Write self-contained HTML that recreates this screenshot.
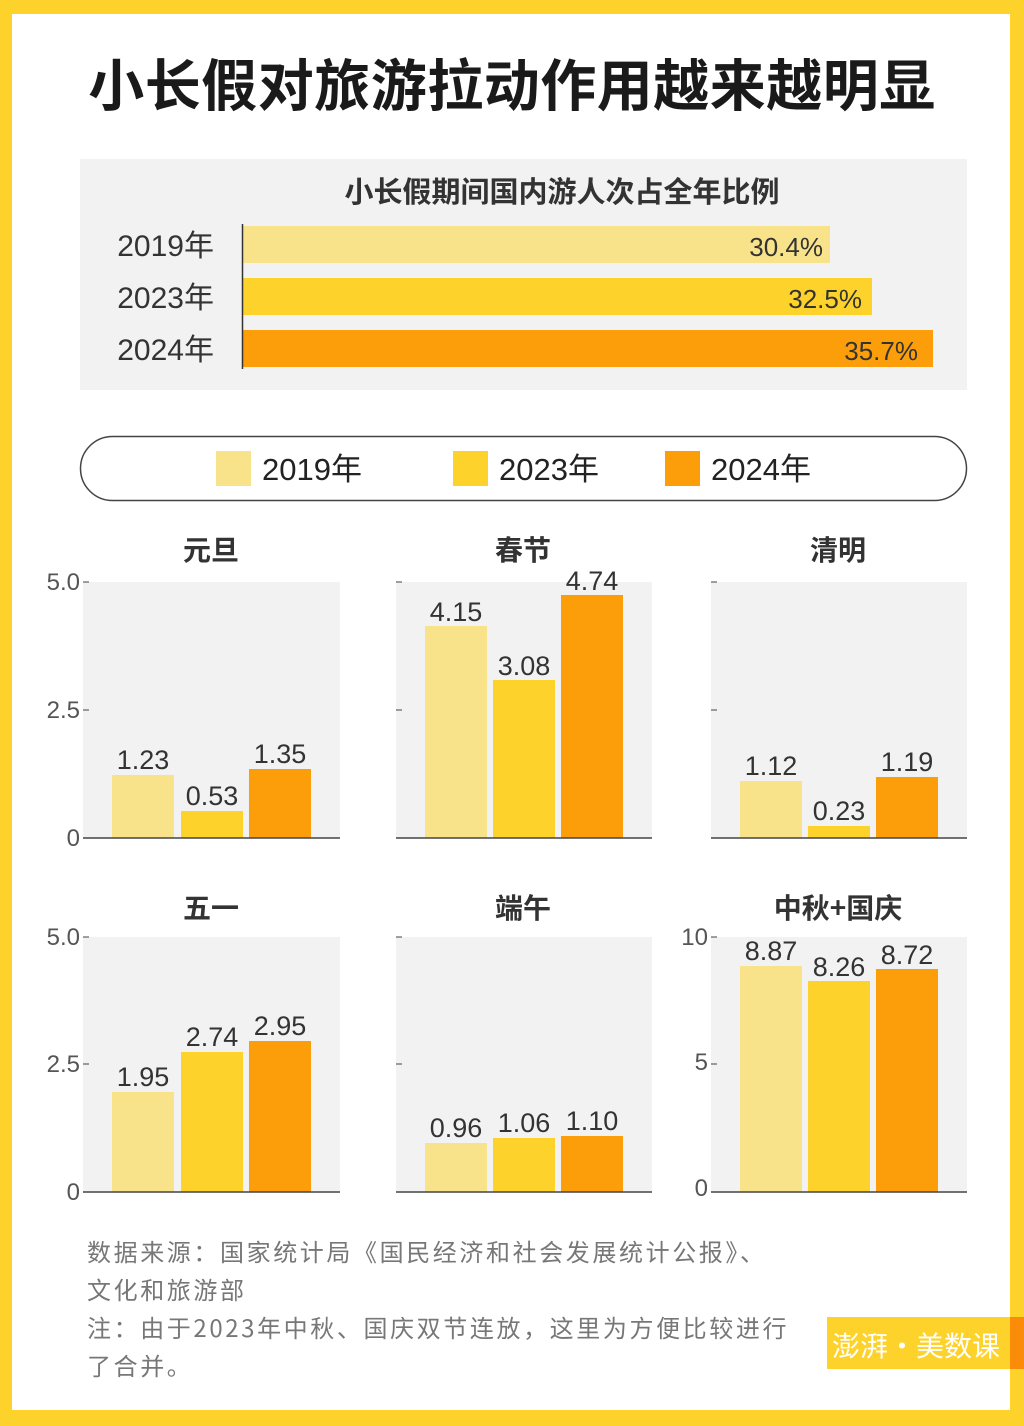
<!DOCTYPE html>
<html><head><meta charset="utf-8"><style>
html,body{margin:0;padding:0;background:#fdd22b;}
svg{display:block;font-family:"Liberation Sans","Noto Sans CJK SC",sans-serif;}
</style></head><body>
<svg width="1024" height="1426" viewBox="0 0 1024 1426" xmlns="http://www.w3.org/2000/svg">
<rect x="0" y="0" width="1024" height="1426" fill="#fdd22b"/>
<rect x="12" y="14" width="998" height="1396" fill="#fff"/>
<text x="512" y="106" text-anchor="middle" font-size="56" font-weight="bold" fill="#1a1a1a" letter-spacing="0.5" style="font-family:'Noto Sans CJK SC',sans-serif">小长假对旅游拉动作用越来越明显</text>
<rect x="80" y="159" width="887" height="231" fill="#f2f2f2"/>
<text x="562" y="202" text-anchor="middle" font-size="29" font-weight="bold" fill="#333" style="font-family:'Noto Sans CJK SC',sans-serif">小长假期间国内游人次占全年比例</text>
<g font-size="30" fill="#333">
<text x="214" y="256" text-anchor="end">2019年</text>
<text x="214" y="308" text-anchor="end">2023年</text>
<text x="214" y="360" text-anchor="end">2024年</text>
</g>
<rect x="243" y="226" width="587" height="37" fill="#f8e38a"/>
<rect x="243" y="278" width="629" height="37" fill="#fdd22b"/>
<rect x="243" y="330" width="690" height="37" fill="#fb9e0a"/>
<line x1="242.5" y1="224" x2="242.5" y2="369" stroke="#333" stroke-width="1.5"/>
<g font-size="26" fill="#333" text-anchor="end">
<text x="823" y="256">30.4%</text>
<text x="862" y="308">32.5%</text>
<text x="918" y="360">35.7%</text>
</g>
<rect x="80.5" y="436.5" width="886" height="64" rx="32" fill="#fff" stroke="#444" stroke-width="1.5"/>
<rect x="216" y="451" width="35" height="35" fill="#f8e38a"/>
<rect x="453" y="451" width="35" height="35" fill="#fdd22b"/>
<rect x="665" y="451" width="35" height="35" fill="#fb9e0a"/>
<g font-size="31" fill="#222">
<text x="262" y="480">2019年</text>
<text x="499" y="480">2023年</text>
<text x="711" y="480">2024年</text>
</g>
<g font-size="28" font-weight="bold" fill="#333" text-anchor="middle" style="font-family:'Noto Sans CJK SC',sans-serif">
<text x="211" y="560">元旦</text>
<text x="523" y="560">春节</text>
<text x="838" y="560">清明</text>
<text x="211" y="918">五一</text>
<text x="523" y="918">端午</text>
<text x="838" y="918">中秋+国庆</text>
</g>
<g fill="#f2f2f2">
<rect x="83" y="582" width="257" height="256"/>
<rect x="396" y="582" width="256" height="256"/>
<rect x="711" y="582" width="256" height="256"/>
<rect x="83" y="937" width="257" height="255"/>
<rect x="396" y="937" width="256" height="255"/>
<rect x="711" y="937" width="256" height="255"/>
</g>
<rect x="112" y="775" width="62" height="63" fill="#f8e38a"/>
<rect x="181" y="811" width="62" height="27" fill="#fdd22b"/>
<rect x="249" y="769" width="62" height="69" fill="#fb9e0a"/>
<rect x="425" y="626" width="62" height="212" fill="#f8e38a"/>
<rect x="493" y="680" width="62" height="158" fill="#fdd22b"/>
<rect x="561" y="595" width="62" height="243" fill="#fb9e0a"/>
<rect x="740" y="781" width="62" height="57" fill="#f8e38a"/>
<rect x="808" y="826" width="62" height="12" fill="#fdd22b"/>
<rect x="876" y="777" width="62" height="61" fill="#fb9e0a"/>
<rect x="112" y="1092" width="62" height="100" fill="#f8e38a"/>
<rect x="181" y="1052" width="62" height="140" fill="#fdd22b"/>
<rect x="249" y="1041" width="62" height="151" fill="#fb9e0a"/>
<rect x="425" y="1143" width="62" height="49" fill="#f8e38a"/>
<rect x="493" y="1138" width="62" height="54" fill="#fdd22b"/>
<rect x="561" y="1136" width="62" height="56" fill="#fb9e0a"/>
<rect x="740" y="966" width="62" height="226" fill="#f8e38a"/>
<rect x="808" y="981" width="62" height="211" fill="#fdd22b"/>
<rect x="876" y="969" width="62" height="223" fill="#fb9e0a"/>
<g stroke="#444" stroke-width="1.5">
<line x1="83" y1="838" x2="340" y2="838"/>
<line x1="396" y1="838" x2="652" y2="838"/>
<line x1="711" y1="838" x2="967" y2="838"/>
<line x1="83" y1="1192" x2="340" y2="1192"/>
<line x1="396" y1="1192" x2="652" y2="1192"/>
<line x1="711" y1="1192" x2="967" y2="1192"/>
</g>
<g stroke="#444" stroke-width="1">
<line x1="83" y1="582" x2="89" y2="582"/><line x1="83" y1="710" x2="89" y2="710"/>
<line x1="396" y1="582" x2="402" y2="582"/><line x1="396" y1="710" x2="402" y2="710"/>
<line x1="711" y1="582" x2="717" y2="582"/><line x1="711" y1="710" x2="717" y2="710"/>
<line x1="83" y1="937" x2="89" y2="937"/><line x1="83" y1="1064" x2="89" y2="1064"/>
<line x1="396" y1="937" x2="402" y2="937"/><line x1="396" y1="1064" x2="402" y2="1064"/>
<line x1="711" y1="937" x2="717" y2="937"/><line x1="711" y1="1064" x2="717" y2="1064"/>
</g>
<g font-size="24" fill="#555" text-anchor="end">
<text x="80" y="590">5.0</text><text x="80" y="718">2.5</text><text x="80" y="846">0</text>
<text x="80" y="945">5.0</text><text x="80" y="1072">2.5</text><text x="80" y="1200">0</text>
<text x="708" y="945">10</text><text x="708" y="1070">5</text><text x="708" y="1196">0</text>
</g>
<g font-size="27" fill="#333" text-anchor="middle">
<text x="143" y="769">1.23</text><text x="212" y="805">0.53</text><text x="280" y="763">1.35</text>
<text x="456" y="621">4.15</text><text x="524" y="675">3.08</text><text x="592" y="590">4.74</text>
<text x="771" y="775">1.12</text><text x="839" y="820">0.23</text><text x="907" y="771">1.19</text>
<text x="143" y="1086">1.95</text><text x="212" y="1046">2.74</text><text x="280" y="1035">2.95</text>
<text x="456" y="1137">0.96</text><text x="524" y="1132">1.06</text><text x="592" y="1130">1.10</text>
<text x="771" y="960">8.87</text><text x="839" y="976">8.26</text><text x="907" y="964">8.72</text>
</g>
<g font-size="24" fill="#777" letter-spacing="2.6" style="font-family:'Noto Sans CJK SC',sans-serif">
<text x="87" y="1261">数据来源：国家统计局《国民经济和社会发展统计公报》、</text>
<text x="87" y="1299">文化和旅游部</text>
<text x="87" y="1337">注：由于2023年中秋、国庆双节连放，这里为方便比较进行</text>
<text x="87" y="1375">了合并。</text>
</g>
<rect x="827" y="1317" width="183" height="52" fill="#fdd22b"/>
<rect x="1010" y="1317" width="14" height="52" fill="#fb8c0a"/>
<text x="916" y="1356" text-anchor="middle" font-size="28" fill="#fff" style="font-family:'Noto Sans CJK SC',sans-serif">澎湃·美数课</text>
</svg>
</body></html>
